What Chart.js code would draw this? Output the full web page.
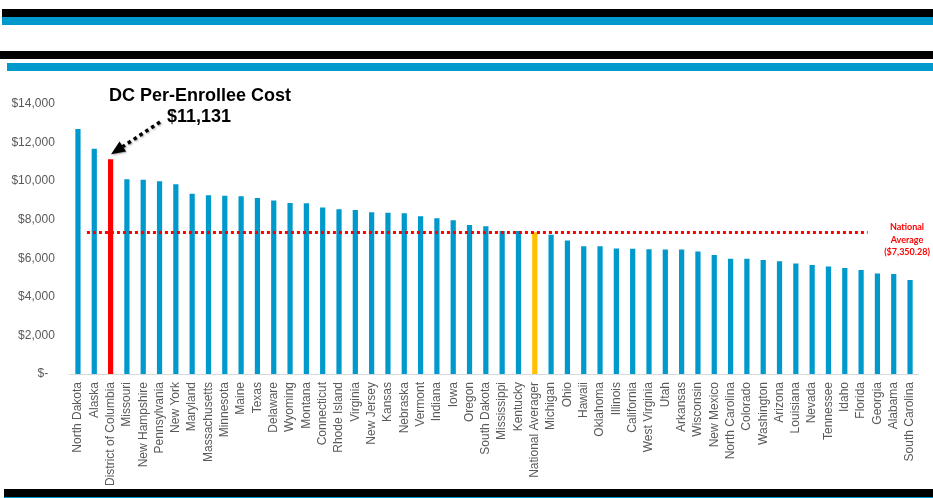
<!DOCTYPE html>
<html>
<head>
<meta charset="utf-8">
<script src="https://cdn.jsdelivr.net/npm/chart.js@4"></script>
<style>
  html, body { margin: 0; padding: 0; background: #fff; }
  #wrap { position: relative; width: 933px; height: 498px; overflow: hidden; }
  #wrap canvas { position: absolute; left: 0; top: 0; }
  .band { position: absolute; }
</style>
</head>
<body>
<div id="wrap">
  <canvas id="cost-chart" width="933" height="498"></canvas>
  <div class="band" style="left:2px;top:9px;width:931px;height:8px;background:#000"></div>
  <div class="band" style="left:2px;top:17px;width:931px;height:8px;background:#0099cc"></div>
  <div class="band" style="left:0;top:51px;width:933px;height:8px;background:#000"></div>
  <div class="band" style="left:7px;top:63px;width:926px;height:8px;background:#0099cc"></div>
  <div class="band" style="left:4px;top:489px;width:929px;height:8px;background:#000"></div>
  <div class="band" style="left:4px;top:497px;width:929px;height:1px;background:#0099cc"></div>
</div>
<script>
// ── per-enrollee cost by state ───────────────────────────────────────────
const states = [
  'North Dakota', 'Alaska', 'District of Columbia', 'Missouri', 'New Hampshire', 'Pennsylvania',
  'New York', 'Maryland', 'Massachusetts', 'Minnesota', 'Maine', 'Texas', 'Delaware', 'Wyoming',
  'Montana', 'Connecticut', 'Rhode Island', 'Virginia', 'New Jersey', 'Kansas', 'Nebraska',
  'Vermont', 'Indiana', 'Iowa', 'Oregon', 'South Dakota', 'Mississippi', 'Kentucky',
  'National Averager', 'Michigan', 'Ohio', 'Hawaii', 'Oklahoma', 'Illinois', 'California',
  'West Virginia', 'Utah', 'Arkansas', 'Wisconsin', 'New Mexico', 'North Carolina', 'Colorado',
  'Washington', 'Arizona', 'Louisiana', 'Nevada', 'Tennessee', 'Idaho', 'Florida', 'Georgia',
  'Alabama', 'South Carolina'
];
const costs = [
  12700, 11680, 11131, 10100, 10070, 10000,
  9840, 9340, 9270, 9240, 9220, 9130, 8990, 8870,
  8860, 8630, 8545, 8510, 8390, 8355, 8340,
  8180, 8080, 7975, 7730, 7660, 7420, 7420,
  7350.28, 7215, 6920, 6625, 6625, 6505, 6490,
  6470, 6450, 6450, 6350, 6175, 5970, 5970,
  5915, 5850, 5725, 5655, 5570, 5500, 5395, 5205,
  5190, 4880
];
const yTicks = [0, 2000, 4000, 6000, 8000, 10000, 12000, 14000];
const dcName = 'District of Columbia';
const dcCost = 11131;
const avgName = 'National Averager';
const avgCost = 7350.28;

const BLUE = '#0099cc', RED = '#ff0000', GOLD = '#ffc000', GREY = '#595959';
const FONT = '"Liberation Sans", Arial, sans-serif';

const barColors = states.map(s => s === dcName ? RED : s === avgName ? GOLD : BLUE);

const money = v => v === 0 ? '$-  ' : '$' + Math.round(v).toLocaleString('en-US');

// dotted average line, DC callout and the average note
const notes = {
  id: 'notes',
  afterDatasetsDraw(chart) {
    const { ctx, scales: { x, y } } = chart;
    ctx.save();

    // national average line
    const ly = Math.round(y.getPixelForValue(avgCost)) + 0.5;
    ctx.strokeStyle = RED;
    ctx.lineWidth = 3;
    ctx.setLineDash([3, 3]);
    ctx.beginPath();
    ctx.moveTo(x.getPixelForValue(0.55), ly);
    ctx.lineTo(x.getPixelForValue(48.4), ly);
    ctx.stroke();

    ctx.setLineDash([]);
    ctx.fillStyle = RED;
    ctx.font = 'bold 9px Lato, "Open Sans", sans-serif';
    ctx.textAlign = 'center';
    ctx.textBaseline = 'middle';
    ctx.fillText('National', 907, 227);
    ctx.fillText('Average', 907, 240);
    ctx.fillText('($7,350.28)', 907, 252);

    // DC callout
    ctx.fillStyle = '#000';
    ctx.font = 'bold 18px ' + FONT;
    ctx.fillText('DC Per-Enrollee Cost', 200, 96);
    ctx.fillText('$' + dcCost.toLocaleString('en-US'), 199, 117);

    const i = states.indexOf(dcName);
    const tipX = x.getPixelForValue(i) + 0.5;
    const tipY = y.getPixelForValue(dcCost) - 5;
    const sx = 160, sy = 122;
    const ang = Math.atan2(tipY - sy, tipX - sx);
    const headLen = 14, headW = 6;
    const bx = tipX - Math.cos(ang) * headLen, by = tipY - Math.sin(ang) * headLen;

    ctx.shadowColor = 'rgba(0,0,0,0.35)';
    ctx.shadowBlur = 2;
    ctx.shadowOffsetX = 1;
    ctx.shadowOffsetY = 1;
    ctx.strokeStyle = '#000';
    ctx.lineWidth = 3.5;
    ctx.setLineDash([3.5, 3.5]);
    ctx.beginPath();
    ctx.moveTo(sx, sy);
    ctx.lineTo(bx, by);
    ctx.stroke();
    ctx.setLineDash([]);
    ctx.beginPath();
    ctx.moveTo(tipX, tipY);
    ctx.lineTo(bx + Math.sin(ang) * headW, by - Math.cos(ang) * headW);
    ctx.lineTo(bx - Math.sin(ang) * headW, by + Math.cos(ang) * headW);
    ctx.closePath();
    ctx.fill();

    ctx.restore();
  }
};

new Chart(document.getElementById('cost-chart'), {
  type: 'bar',
  data: {
    labels: states,
    datasets: [{ data: costs, backgroundColor: barColors, borderWidth: 0, barPercentage: 0.32, categoryPercentage: 1 }]
  },
  options: {
    responsive: false, animation: false,
    layout: { padding: { top: 104, right: 14.8, bottom: 0, left: 0 } },
    plugins: { legend: { display: false }, tooltip: { enabled: false } },
    scales: {
      x: {
        grid: { display: false, drawTicks: false },
        border: { display: true, color: '#d9d9d9', width: 1 },
        ticks: { color: GREY, font: { family: FONT, size: 12 }, minRotation: 90, maxRotation: 90, autoSkip: false, padding: 8 },
        afterFit: s => { s.height = 124; }
      },
      y: {
        min: 0, max: 14000,
        afterBuildTicks: s => { s.ticks = yTicks.map(v => ({ value: v })); },
        grid: { display: false, drawTicks: false },
        border: { display: false },
        ticks: { color: GREY, font: { family: FONT, size: 12 }, padding: 15, callback: v => money(v) },
        afterFit: s => { s.width = 69.8; }
      }
    }
  },
  plugins: [notes]
});
</script>
</body>
</html>
